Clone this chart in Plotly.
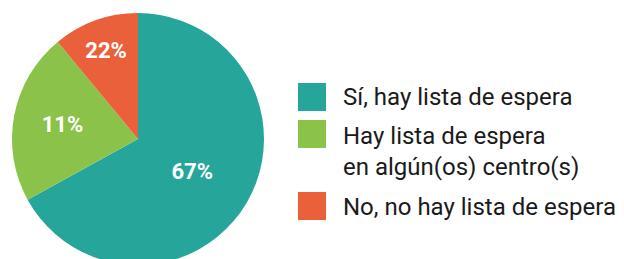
import plotly.graph_objects as go

categories = ["Sí, hay lista de espera", "Hay lista de espera<br>en algún(os) centro(s)", "No, no hay lista de espera"]
values = [67, 22, 11]
value_labels = ["67%", "11%", "22%"]
colors = ["#26A69A", "#8BC34A", "#E9603B"]

W, H = 624, 259
OFF = 8  # page body margin

fig = go.Figure()
fig.add_trace(go.Pie(
    labels=categories,
    values=values,
    text=value_labels,
    textinfo="text",
    textposition="inside",
    insidetextorientation="horizontal",
    sort=False,
    direction="clockwise",
    rotation=0,
    marker=dict(colors=colors, line=dict(width=0)),
    textfont=dict(family="Roboto", size=22, color="white", weight="bold"),
    domain=dict(x=[(12 - OFF) / W, (264 - OFF) / W], y=[1 - (265 - OFF) / H, 1 - (13 - OFF) / H]),
    hoverinfo="skip",
    showlegend=False,
))

# custom legend built from the category / colour lists
sw_top = [83, 120, 192]
txt_y = [97, 151, 207]
shapes, annotations = [], []
for cat, col, top, ty in zip(categories, colors, sw_top, txt_y):
    shapes.append(dict(type="rect", xref="paper", yref="paper",
                       x0=(298 - OFF) / W, x1=(326 - OFF) / W,
                       y0=1 - (top + 28 - OFF) / H, y1=1 - (top - OFF) / H,
                       fillcolor=col, line=dict(width=0)))
    annotations.append(dict(text=cat, xref="paper", yref="paper", x=(341 - OFF) / W, y=1 - (ty - OFF) / H,
                            xanchor="left", yanchor="middle", showarrow=False, align="left",
                            font=dict(family="Roboto", size=24, color="#1a1a1a")))

fig.update_layout(
    width=W, height=H,
    margin=dict(l=0, r=0, t=0, b=0),
    paper_bgcolor="white",
    plot_bgcolor="white",
    showlegend=False,
    shapes=shapes,
    annotations=annotations,
)
fig.write_html("out.html")
